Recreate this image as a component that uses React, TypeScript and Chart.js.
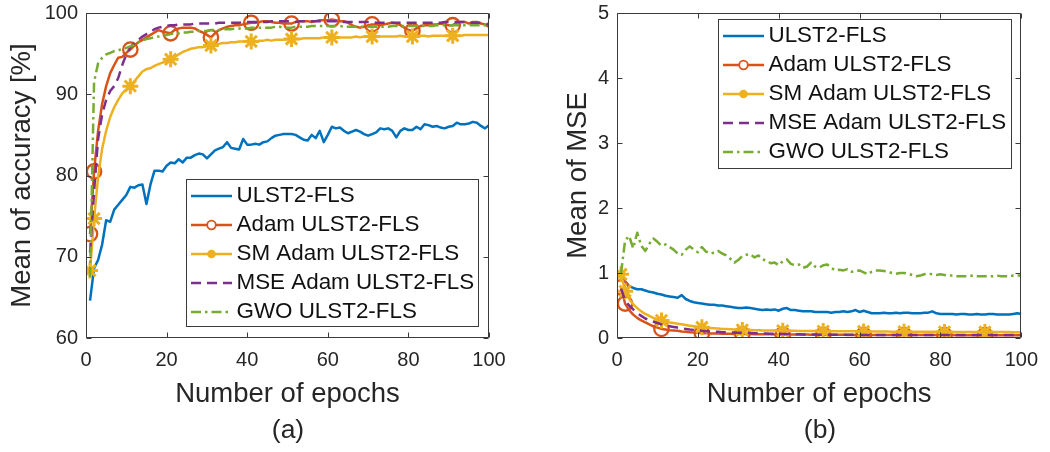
import React, { useEffect, useRef } from 'react';
import { Chart, registerables } from 'chart.js';

Chart.register(...registerables);

const FONT = '"Liberation Sans", Arial, Helvetica, sans-serif';
const TEXT = '#262626';
const FRAME = '#3a3a3a';

// ---------- data ----------
const epochs = [
  1, 2, 3, 4, 5, 6, 7, 8, 9, 10, 11, 12, 13, 14, 15, 16, 17, 18, 19, 20,
  21, 22, 23, 24, 25, 26, 27, 28, 29, 30, 31, 32, 33, 34, 35, 36, 37, 38, 39, 40,
  41, 42, 43, 44, 45, 46, 47, 48, 49, 50, 51, 52, 53, 54, 55, 56, 57, 58, 59, 60,
  61, 62, 63, 64, 65, 66, 67, 68, 69, 70, 71, 72, 73, 74, 75, 76, 77, 78, 79, 80,
  81, 82, 83, 84, 85, 86, 87, 88, 89, 90, 91, 92, 93, 94, 95, 96, 97, 98, 99, 100,
];

const seriesNames = ['ULST2-FLS', 'Adam ULST2-FLS', 'SM Adam ULST2-FLS', 'MSE Adam ULST2-FLS', 'GWO ULST2-FLS'];
const seriesColors = ['#0072BD', '#D95319', '#EDB120', '#7E2F8E', '#77AC30'];
const markerEpochs = [1, 2, 11, 21, 31, 41, 51, 61, 71, 81, 91];

const xTickValues = [0, 20, 40, 60, 80, 100];
const accTickValues = [60, 70, 80, 90, 100];
const mseTickValues = [0, 1, 2, 3, 4, 5];

// (a) Mean of accuracy [%]
const accULST2 = [
  64.6, 68.6, 69.6, 71.5, 74.5, 74.3, 75.8, 76.4, 77.0, 77.6,
  78.6, 78.5, 78.8, 78.9, 76.5, 78.9, 80.6, 80.6, 80.5, 81.2,
  81.6, 81.5, 82.0, 81.6, 82.2, 82.2, 82.5, 82.7, 82.6, 82.1,
  82.6, 83.1, 83.3, 83.5, 84.1, 83.4, 83.3, 83.2, 84.5, 83.8,
  83.8, 83.9, 83.8, 84.1, 84.2, 84.6, 84.9, 85.0, 85.1, 85.1,
  85.1, 85.0, 84.7, 84.4, 84.3, 85.0, 84.6, 85.5, 84.1, 85.0,
  86.0, 85.8, 85.9, 85.5, 85.2, 85.4, 85.6, 85.4, 85.1, 84.9,
  85.1, 85.3, 85.8, 85.7, 85.8, 85.5, 84.7, 85.5, 85.8, 85.6,
  85.6, 86.0, 85.7, 86.3, 86.2, 86.0, 86.1, 85.9, 85.8, 86.0,
  86.1, 86.5, 86.3, 86.3, 86.4, 86.6, 86.5, 86.1, 85.8, 86.2,
];
const accAdam = [
  72.8, 80.5, 85.5, 88.8, 91.0, 92.6, 93.6, 94.5, 94.6, 95.1,
  95.5, 96.0, 96.4, 96.7, 97.0, 97.3, 97.6, 97.9, 97.7, 97.6,
  97.5, 97.9, 98.1, 98.2, 98.2, 98.2, 98.1, 97.8, 97.6, 97.3,
  97.0, 97.5, 97.9, 98.1, 98.3, 98.4, 98.5, 98.5, 98.6, 98.7,
  98.8, 98.8, 98.9, 99.0, 99.0, 98.9, 98.8, 98.8, 98.7, 98.7,
  98.7, 98.9, 99.0, 99.0, 99.0, 98.9, 99.0, 99.1, 99.1, 99.1,
  99.2, 99.1, 99.0, 99.0, 98.8, 98.5, 98.3, 98.2, 98.3, 98.5,
  98.6, 98.6, 98.5, 98.6, 98.7, 98.8, 98.7, 98.5, 98.2, 97.9,
  97.8, 98.1, 98.4, 98.5, 98.5, 98.6, 98.6, 98.7, 98.6, 98.5,
  98.5, 98.8, 98.9, 98.9, 98.7, 98.9, 98.9, 98.7, 98.6, 98.3,
];
const accSMAdam = [
  68.3, 74.7, 79.8, 83.3, 85.5, 87.2, 88.4, 89.3, 90.1, 90.6,
  91.0, 91.6, 92.2, 92.8, 93.1, 93.2, 93.5, 93.7, 93.9, 94.1,
  94.3, 94.6, 94.9, 95.2, 95.4, 95.6, 95.7, 95.8, 95.8, 95.9,
  96.0, 96.1, 96.2, 96.3, 96.3, 96.4, 96.4, 96.5, 96.5, 96.5,
  96.5, 96.5, 96.6, 96.6, 96.7, 96.6, 96.7, 96.7, 96.7, 96.8,
  96.8, 96.8, 96.8, 96.9, 96.9, 96.9, 96.9, 96.9, 97.0, 97.0,
  97.0, 97.0, 97.0, 97.0, 97.0, 97.0, 97.1, 97.0, 97.1, 97.1,
  97.1, 97.1, 97.1, 97.1, 97.1, 97.1, 97.1, 97.2, 97.1, 97.1,
  97.1, 97.2, 97.2, 97.2, 97.1, 97.2, 97.2, 97.2, 97.2, 97.2,
  97.2, 97.2, 97.2, 97.3, 97.3, 97.3, 97.3, 97.3, 97.3, 97.3,
];
const accMSEAdam = [
  70.5, 78.0, 84.5, 87.5, 89.3, 90.4, 91.0, 92.0, 93.6, 94.9,
  95.8, 96.3, 96.7, 97.1, 97.4, 97.7, 98.0, 98.2, 98.3, 98.4,
  98.5, 98.5, 98.6, 98.6, 98.6, 98.6, 98.7, 98.7, 98.7, 98.7,
  98.7, 98.7, 98.8, 98.8, 98.8, 98.8, 98.8, 98.8, 98.9, 98.9,
  98.9, 98.9, 98.9, 98.9, 98.9, 99.0, 99.0, 99.0, 99.0, 99.0,
  98.9, 98.9, 99.0, 99.0, 99.0, 99.0, 99.0, 99.0, 99.0, 99.0,
  99.0, 99.0, 99.0, 98.9, 98.9, 98.9, 98.9, 98.9, 98.9, 98.9,
  98.9, 98.8, 98.8, 98.8, 98.8, 98.8, 98.8, 98.8, 98.8, 98.8,
  98.8, 98.8, 98.8, 98.8, 98.8, 98.8, 98.8, 98.8, 98.9, 98.9,
  98.9, 98.9, 98.9, 98.9, 98.8, 98.8, 98.8, 98.8, 98.7, 98.6,
];
const accGWO = [
  67.5, 91.5, 93.8, 94.5, 94.9, 95.1, 95.3, 95.4, 95.6, 95.7,
  95.9, 96.1, 96.4, 96.6, 96.8, 96.9, 97.0, 97.1, 97.2, 97.3,
  97.4, 97.5, 97.5, 97.6, 97.6, 97.7, 97.7, 97.8, 97.8, 97.8,
  97.9, 97.9, 97.9, 98.0, 98.0, 98.0, 98.1, 98.1, 98.1, 98.1,
  98.2, 98.2, 98.2, 98.2, 98.2, 98.2, 98.3, 98.3, 98.2, 98.2,
  98.2, 98.3, 98.3, 98.3, 98.3, 98.4, 98.4, 98.4, 98.4, 98.4,
  98.4, 98.4, 98.4, 98.3, 98.3, 98.3, 98.3, 98.3, 98.3, 98.3,
  98.3, 98.3, 98.3, 98.3, 98.3, 98.4, 98.4, 98.4, 98.4, 98.4,
  98.4, 98.4, 98.4, 98.4, 98.4, 98.4, 98.5, 98.5, 98.5, 98.5,
  98.5, 98.5, 98.5, 98.5, 98.5, 98.5, 98.5, 98.5, 98.5, 98.5,
];

// (b) Mean of MSE
const mseULST2 = [
  0.98, 0.87, 0.80, 0.77, 0.75, 0.75, 0.73, 0.71, 0.70, 0.68,
  0.67, 0.65, 0.64, 0.63, 0.62, 0.66, 0.60, 0.57, 0.55, 0.54,
  0.53, 0.52, 0.51, 0.51, 0.50, 0.50, 0.49, 0.48, 0.47, 0.46,
  0.46, 0.47, 0.46, 0.45, 0.44, 0.43, 0.44, 0.43, 0.44, 0.42,
  0.45, 0.46, 0.43, 0.43, 0.42, 0.41, 0.41, 0.41, 0.40, 0.40,
  0.40, 0.40, 0.39, 0.40, 0.40, 0.41, 0.40, 0.41, 0.43, 0.40,
  0.42, 0.40, 0.38, 0.38, 0.38, 0.39, 0.38, 0.38, 0.39, 0.38,
  0.39, 0.39, 0.38, 0.38, 0.38, 0.39, 0.39, 0.41, 0.38, 0.37,
  0.37, 0.37, 0.37, 0.36, 0.37, 0.37, 0.36, 0.36, 0.37, 0.36,
  0.36, 0.37, 0.37, 0.36, 0.36, 0.36, 0.36, 0.37, 0.38, 0.37,
];
const mseAdam = [
  0.78, 0.53, 0.43, 0.36, 0.31, 0.27, 0.24, 0.21, 0.18, 0.16,
  0.14, 0.13, 0.12, 0.115, 0.11, 0.10, 0.095, 0.09, 0.085, 0.08,
  0.075, 0.075, 0.07, 0.07, 0.07, 0.065, 0.065, 0.065, 0.06, 0.06,
  0.06, 0.06, 0.06, 0.058, 0.058, 0.057, 0.057, 0.056, 0.055, 0.055,
  0.054, 0.054, 0.053, 0.053, 0.052, 0.052, 0.052, 0.051, 0.051, 0.05,
  0.05, 0.05, 0.05, 0.049, 0.049, 0.049, 0.048, 0.048, 0.048, 0.048,
  0.047, 0.047, 0.047, 0.047, 0.047, 0.046, 0.046, 0.046, 0.046, 0.046,
  0.046, 0.046, 0.045, 0.045, 0.045, 0.045, 0.045, 0.045, 0.045, 0.045,
  0.045, 0.045, 0.045, 0.044, 0.044, 0.044, 0.044, 0.044, 0.044, 0.044,
  0.044, 0.044, 0.044, 0.044, 0.044, 0.044, 0.044, 0.044, 0.044, 0.044,
];
const mseSMAdam = [
  0.98, 0.72, 0.60, 0.52, 0.46, 0.41, 0.37, 0.34, 0.31, 0.29,
  0.27, 0.25, 0.24, 0.23, 0.22, 0.21, 0.20, 0.19, 0.18, 0.17,
  0.165, 0.16, 0.155, 0.15, 0.145, 0.14, 0.14, 0.135, 0.13, 0.13,
  0.125, 0.124, 0.122, 0.12, 0.118, 0.117, 0.116, 0.115, 0.114, 0.113,
  0.112, 0.111, 0.11, 0.11, 0.109, 0.108, 0.108, 0.107, 0.107, 0.106,
  0.106, 0.105, 0.105, 0.104, 0.104, 0.103, 0.103, 0.102, 0.102, 0.101,
  0.101, 0.1, 0.1, 0.1, 0.099, 0.099, 0.099, 0.098, 0.098, 0.098,
  0.097, 0.097, 0.097, 0.096, 0.096, 0.096, 0.095, 0.095, 0.095, 0.095,
  0.094, 0.094, 0.094, 0.094, 0.093, 0.093, 0.093, 0.093, 0.092, 0.092,
  0.092, 0.092, 0.092, 0.091, 0.091, 0.091, 0.091, 0.09, 0.09, 0.09,
];
const mseMSEAdam = [
  0.76, 0.58, 0.50, 0.44, 0.38, 0.34, 0.30, 0.27, 0.25, 0.23,
  0.21, 0.19, 0.18, 0.17, 0.16, 0.15, 0.14, 0.13, 0.125, 0.12,
  0.11, 0.105, 0.10, 0.10, 0.095, 0.09, 0.09, 0.085, 0.085, 0.08,
  0.08, 0.078, 0.076, 0.074, 0.072, 0.07, 0.068, 0.067, 0.066, 0.065,
  0.063, 0.062, 0.06, 0.058, 0.057, 0.055, 0.054, 0.053, 0.052, 0.051,
  0.05, 0.05, 0.05, 0.05, 0.049, 0.049, 0.049, 0.049, 0.048, 0.048,
  0.048, 0.048, 0.048, 0.047, 0.047, 0.047, 0.047, 0.047, 0.047, 0.046,
  0.046, 0.046, 0.046, 0.046, 0.046, 0.046, 0.046, 0.046, 0.046, 0.045,
  0.045, 0.045, 0.045, 0.045, 0.045, 0.045, 0.045, 0.045, 0.045, 0.045,
  0.045, 0.045, 0.045, 0.045, 0.045, 0.045, 0.045, 0.045, 0.045, 0.045,
];
const mseGWO = [
  1.00, 1.50, 1.57, 1.38, 1.62, 1.42, 1.34, 1.45, 1.53, 1.48,
  1.42, 1.44, 1.40, 1.36, 1.30, 1.28, 1.36, 1.41, 1.36, 1.32,
  1.40, 1.33, 1.30, 1.31, 1.34, 1.30, 1.27, 1.22, 1.16, 1.20,
  1.26, 1.28, 1.29, 1.24, 1.27, 1.21, 1.19, 1.15, 1.16, 1.12,
  1.18, 1.21, 1.14, 1.12, 1.13, 1.08, 1.10, 1.16, 1.10, 1.08,
  1.12, 1.13, 1.08, 1.04, 1.05, 1.04, 1.06, 1.02, 1.03, 1.04,
  1.01, 0.98, 1.02, 1.04, 1.04, 1.03, 1.02, 1.00, 0.99, 1.00,
  1.00, 0.99, 0.97, 0.95, 0.96, 0.98, 0.99, 0.98, 0.97, 0.98,
  0.97, 0.96, 0.96, 0.95, 0.95, 0.95, 0.95, 0.96, 0.95, 0.95,
  0.95, 0.95, 0.95, 0.96, 0.95, 0.95, 0.95, 0.96, 0.96, 0.96,
];

// ---------- plugins ----------
const framePlugin = {
  id: 'frame',
  afterDraw(chart: any) {
    const { ctx, chartArea: a, scales } = chart;
    const L = Math.round(a.left) + 0.5;
    const R = Math.round(a.right) - 0.5;
    const T = Math.round(a.top) + 0.5;
    const B = Math.round(a.bottom) - 0.5;
    const tl = 5;
    ctx.save();
    ctx.strokeStyle = FRAME;
    ctx.lineWidth = 1;
    ctx.beginPath();
    ctx.rect(L, T, R - L, B - T);
    scales.x.ticks.forEach((t: any) => {
      const px = Math.round(scales.x.getPixelForValue(t.value)) + 0.5;
      ctx.moveTo(px, B); ctx.lineTo(px, B - tl);
      ctx.moveTo(px, T); ctx.lineTo(px, T + tl);
    });
    scales.y.ticks.forEach((t: any) => {
      const py = Math.round(scales.y.getPixelForValue(t.value)) + 0.5;
      ctx.moveTo(L, py); ctx.lineTo(L + tl, py);
      ctx.moveTo(R, py); ctx.lineTo(R - tl, py);
    });
    ctx.stroke();
    ctx.restore();
  },
};

const legendPlugin = {
  id: 'legendBox',
  afterDraw(chart: any, _args: any, opts: any) {
    const { ctx } = chart;
    const { x, y, w, h } = opts;
    ctx.save();
    ctx.fillStyle = '#ffffff';
    ctx.fillRect(x, y, w, h);
    ctx.strokeStyle = FRAME;
    ctx.lineWidth = 1;
    ctx.strokeRect(x + 0.5, y + 0.5, w, h);
    chart.data.datasets.forEach((ds: any, i: number) => {
      const cy = y + 17 + i * 29;
      ctx.strokeStyle = ds.borderColor;
      ctx.lineWidth = 2.5;
      ctx.setLineDash(ds.borderDash || []);
      ctx.beginPath();
      ctx.moveTo(x + 5, cy);
      ctx.lineTo(x + 46, cy);
      ctx.stroke();
      ctx.setLineDash([]);
      const mx = x + 25.5;
      if (i === 1) {
        ctx.beginPath();
        ctx.arc(mx, cy, 4.3, 0, Math.PI * 2);
        ctx.fillStyle = '#ffffff';
        ctx.fill();
        ctx.lineWidth = 1.8;
        ctx.stroke();
      } else if (i === 2) {
        ctx.beginPath();
        ctx.arc(mx, cy, 4.3, 0, Math.PI * 2);
        ctx.fillStyle = ds.borderColor;
        ctx.fill();
      }
      ctx.fillStyle = '#111111';
      ctx.font = `22.4px ${FONT}`;
      ctx.textBaseline = 'middle';
      ctx.textAlign = 'left';
      ctx.fillText(ds.label, x + 50.5, cy);
    });
    ctx.restore();
  },
};

const captionPlugin = {
  id: 'caption',
  afterDraw(chart: any, _args: any, opts: any) {
    const { ctx } = chart;
    ctx.save();
    ctx.fillStyle = TEXT;
    ctx.font = `26.5px ${FONT}`;
    ctx.textAlign = 'center';
    ctx.textBaseline = 'alphabetic';
    ctx.fillText(opts.text, opts.x, opts.y);
    ctx.restore();
  },
};

// ---------- chart config ----------
function buildDatasets(series: number[][]) {
  return series.map((vals, i) => ({
    label: seriesNames[i],
    data: epochs.map((e, k) => ({ x: e, y: vals[k] })),
    borderColor: seriesColors[i],
    backgroundColor: seriesColors[i],
    borderWidth: 2.5,
    borderDash: i === 3 ? [10, 6] : i === 4 ? [10, 4, 2.5, 4] : [],
    borderJoinStyle: 'round',
    pointStyle: i === 2 ? 'star' : 'circle',
    pointRadius: (c: any) =>
      (i === 1 || i === 2) && markerEpochs.includes(epochs[c.dataIndex]) ? (i === 2 ? 8 : 7.2) : 0,
    pointHoverRadius: 0,
    pointBorderWidth: i === 2 ? 3 : 2.3,
    pointBackgroundColor: i === 1 ? 'rgba(0,0,0,0)' : seriesColors[i],
    pointBorderColor: seriesColors[i],
    tension: 0,
    fill: false,
    order: 5 - i,
  }));
}

type PanelSpec = {
  series: number[][];
  yMin: number;
  yMax: number;
  yTicks: number[];
  yTitle: string;
  yTitlePad: number;
  yWidth: number;
  padRight: number;
  legend: { x: number; y: number; w: number; h: number };
  caption: { text: string; x: number; y: number };
};

function makeConfig(p: PanelSpec): any {
  return {
    type: 'line',
    data: { datasets: buildDatasets(p.series) },
    options: {
      responsive: false,
      animation: false,
      events: [],
      layout: { padding: { left: 0, right: p.padRight, top: 7, bottom: 0 } },
      scales: {
        x: {
          type: 'linear',
          min: 0,
          max: 100,
          afterBuildTicks: (s: any) => {
            s.ticks = xTickValues.map((v) => ({ value: v }));
          },
          afterFit: (s: any) => {
            s.height = 114;
          },
          grid: { display: false, drawTicks: false },
          border: { display: false },
          ticks: {
            autoSkip: false,
            maxRotation: 0,
            padding: 12,
            color: TEXT,
            font: { family: FONT, size: 20, lineHeight: 1 },
          },
          title: {
            display: true,
            text: 'Number of epochs',
            color: TEXT,
            padding: { top: 0, bottom: 44 },
            font: { family: FONT, size: 27.5, lineHeight: 1 },
          },
        },
        y: {
          type: 'linear',
          min: p.yMin,
          max: p.yMax,
          afterBuildTicks: (s: any) => {
            s.ticks = p.yTicks.map((v) => ({ value: v }));
          },
          afterFit: (s: any) => {
            s.width = p.yWidth;
          },
          grid: { display: false, drawTicks: false },
          border: { display: false },
          ticks: {
            autoSkip: false,
            padding: 8,
            color: TEXT,
            font: { family: FONT, size: 20, lineHeight: 0.5 },
          },
          title: {
            display: true,
            text: p.yTitle,
            color: TEXT,
            padding: { top: p.yTitlePad, bottom: 0 },
            font: { family: FONT, size: 27.5, lineHeight: 1 },
          },
        },
      },
      plugins: {
        legend: { display: false },
        tooltip: { enabled: false },
        legendBox: p.legend,
        caption: p.caption,
      },
    },
    plugins: [framePlugin, legendPlugin, captionPlugin],
  };
}

function Panel({ spec, left, width, height }: { spec: PanelSpec; left: number; width: number; height: number }) {
  const ref = useRef<HTMLCanvasElement | null>(null);
  useEffect(() => {
    if (!ref.current) return;
    const chart = new Chart(ref.current, makeConfig(spec));
    return () => chart.destroy();
  }, []);
  return (
    <canvas
      ref={ref}
      width={width}
      height={height}
      style={{ position: 'absolute', left, top: 0, width, height, display: 'block' }}
    />
  );
}

const leftSpec: PanelSpec = {
  series: [accULST2, accAdam, accSMAdam, accMSEAdam, accGWO],
  yMin: 60,
  yMax: 100,
  yTicks: accTickValues,
  yTitle: 'Mean of accuracy [%]',
  yTitlePad: 8.5,
  yWidth: 86,
  padRight: 31,
  legend: { x: 186, y: 179, w: 292, h: 147 },
  caption: { text: '(a)', x: 288, y: 438 },
};

const rightSpec: PanelSpec = {
  series: [mseULST2, mseAdam, mseSMAdam, mseMSEAdam, mseGWO],
  yMin: 0,
  yMax: 5,
  yTicks: mseTickValues,
  yTitle: 'Mean of MSE',
  yTitlePad: 44.5,
  yWidth: 97,
  padRight: 28,
  legend: { x: 198, y: 19, w: 293, h: 149 },
  caption: { text: '(b)', x: 300, y: 438 },
};

export default function App() {
  return (
    <div style={{ position: 'absolute', left: 0, top: 0, width: 1050, height: 452, background: '#ffffff' }}>
      <Panel spec={leftSpec} left={0} width={520} height={452} />
      <Panel spec={rightSpec} left={520} width={530} height={452} />
    </div>
  );
}
